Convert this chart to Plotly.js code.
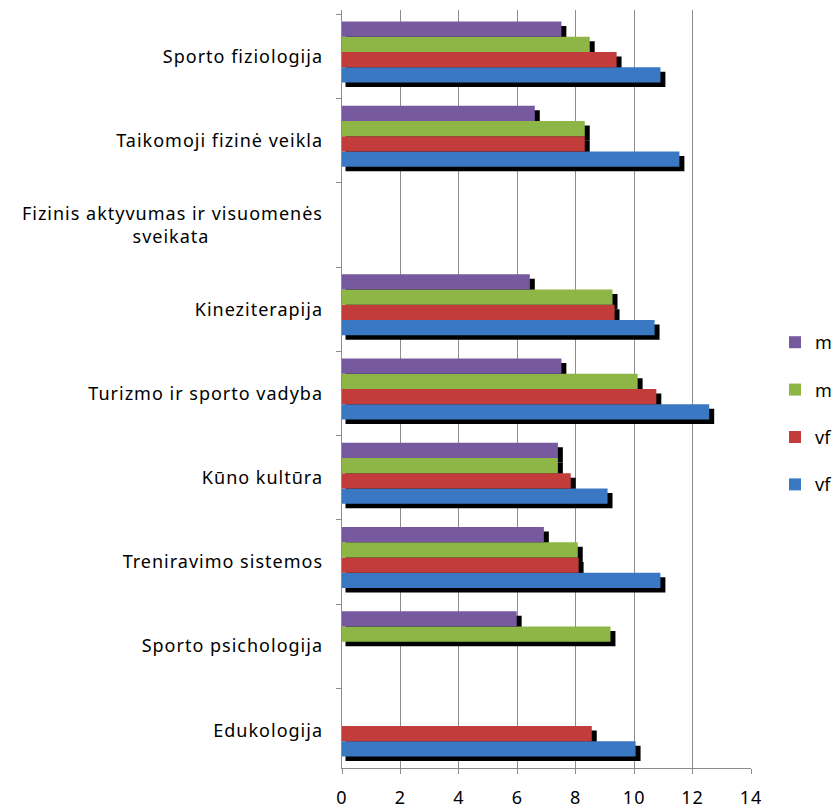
<!DOCTYPE html>
<html><head><meta charset="utf-8">
<script src="https://cdn.plot.ly/plotly-3.0.1.min.js"></script>
<style>body{margin:0;background:#fff}#chart{width:835px;height:812px}
.ytick text, .xtick text{letter-spacing:1px}</style>
</head><body><div id="chart"></div>
<script>
const categories = ["Edukologija","Sporto psichologija","Treniravimo sistemos","Kūno kultūra","Turizmo ir sporto vadyba","Kineziterapija","Fizinis aktyvumas ir visuomenės sveikata","Taikomoji fizinė veikla","Sporto fiziologija"];
const tickLabels = ["Edukologija","Sporto psichologija","Treniravimo sistemos","Kūno kultūra","Turizmo ir sporto vadyba","Kineziterapija","Fizinis aktyvumas ir visuomenės<br>sveikata" + "&nbsp;".repeat(20),"Taikomoji fizinė veikla","Sporto fiziologija"];
const seriesNames = ["vf","vf","m","m"];
const vfBlue   = [10.05, null, 10.90, 9.09, 12.57, 10.70, null, 11.55, 10.90];
const vfRed    = [8.55, null, 8.10, 7.83, 10.76, 9.33, null, 8.31, 9.40];
const mGreen   = [null, 9.19, 8.07, 7.39, 10.12, 9.26, null, 8.31, 8.48];
const mPurple  = [null, 5.98, 6.91, 7.39, 7.51, 6.43, null, 6.60, 7.51];
const xTicks = [0,2,4,6,8,10,12,14];

const series = [vfBlue, vfRed, mGreen, mPurple];
const colors = ["#3A78C4","#C23C3B","#8DB646","#76599F"];
const ranks = [4,3,2,1];
const shOff = 0.12, shExt = 0.05;
const traces = [];
series.forEach((s)=>{
  traces.push({type:'bar', orientation:'h', y:categories, x:s.map(v=>v==null?null:v+shExt), base:shOff,
    marker:{color:'#000'}, showlegend:false, hoverinfo:'skip', xaxis:'x', yaxis:'y'});
});
series.forEach((s,i)=>{
  traces.push({type:'bar', orientation:'h', y:categories, x:s, name:seriesNames[i],
    marker:{color:colors[i], line:{width:0}}, legendgroup:'g'+i, legendrank:ranks[i], xaxis:'x', yaxis:'y2'});
});
const shiftY = 4.5/84.2;
const layout = {
  width:835, height:812, margin:{l:342,r:84,t:10,b:44},
  paper_bgcolor:'#fff', plot_bgcolor:'#fff',
  font:{family:'Noto Sans, sans-serif', color:'#000'},
  barmode:'group', bargap:0.276, bargroupgap:0,
  xaxis:{range:[0,14], tickvals:xTicks, ticktext:xTicks.map(String), showgrid:true, gridcolor:'#8c8c8c', gridwidth:1,
    zeroline:false, showline:true, linecolor:'#8c8c8c', ticks:'outside', ticklen:5, tickcolor:'#8c8c8c',
    tickfont:{size:18}, ticklabelstandoff:8, automargin:false},
  yaxis:{type:'category', categoryorder:'array', categoryarray:categories, tickvals:categories, ticktext:tickLabels,
    range:[-0.5+shiftY, 8.5+shiftY], showgrid:false, zeroline:false, showline:false, automargin:false,
    ticks:'outside', ticklen:5, tickcolor:'#8c8c8c', tickson:'boundaries', tickfont:{size:18}, ticklabelstandoff:18},
  yaxis2:{type:'category', categoryorder:'array', categoryarray:categories, overlaying:'y', range:[-0.5,8.5],
    showticklabels:false, showgrid:false, zeroline:false, showline:true, linecolor:'#8c8c8c', ticks:''},
  legend:{xref:'container', yref:'container', x:775/835, xanchor:'left', y:1-324/812, yanchor:'top',
    traceorder:'grouped', tracegroupgap:21, font:{size:18}, itemwidth:30, bgcolor:'rgba(0,0,0,0)'},
  showlegend:true
};
Plotly.newPlot('chart', traces, layout, {staticPlot:true});
</script></body></html>
